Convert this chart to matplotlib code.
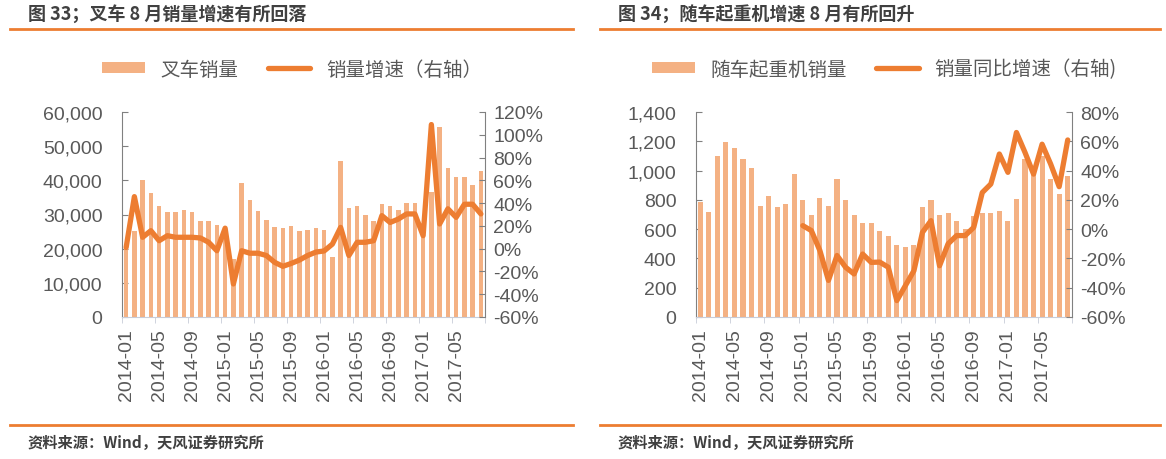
import numpy as np
import pandas as pd
import matplotlib
matplotlib.use("Agg")
import matplotlib.pyplot as plt
from matplotlib.ticker import FuncFormatter, MultipleLocator, FixedLocator

plt.rcParams['font.family'] = ['Liberation Sans', 'Noto Sans CJK SC', 'DejaVu Sans']
plt.rcParams['axes.unicode_minus'] = False

# 月份 2014-01 ~ 2017-08
months = [p.strftime('%Y-%m') for p in pd.period_range('2014-01', '2017-08', freq='M')]

# 图33 叉车
forklift_sales = [20400, 25300, 40000, 36200, 32600, 30800, 30800, 31300, 30800, 28200, 28200, 26900,
                  24000, 17000, 39100, 34300, 31100, 28500, 26400, 26000, 26700, 25100,
                  25500, 26000, 25500, 17700, 45800, 31800, 32600, 30000, 28200, 33100, 32600, 31300,
                  33400, 33400, 27000, 36500, 55500, 43500, 40900, 40900, 38700, 42600]
forklift_growth = [1, 45.7, 10, 15.8, 7, 11.4, 10, 10, 10, 9.4, 5.6, -1.8,
                   18, -31, -1.8, -4, -4, -6, -12, -15.5, -13, -10,
                   -6, -3, -2, 4, 18.7, -6, 5.6, 5.6, 7, 29, 23, 26,
                   30.5, 30.5, 11.4, 109, 21.7, 35, 27.5, 39, 39, 30.5]

# 图34 随车起重机
crane_sales = [788, 719, 1097, 1197, 1152, 1079, 1015, 760, 824, 749, 772, 977,
               799, 699, 810, 760, 945, 801, 699, 640, 640, 585,
               555, 492, 480, 492, 749, 799, 697, 708, 658, 600, 690, 708,
               708, 726, 658, 808, 1079, 988, 1102, 942, 840, 965]
crane_growth = [np.nan] * 12 + [2.4, -1, -14.7, -35, -18, -26, -30.6, -17, -22.7, -22.5,
                                -26, -48.8, -38.6, -28.4, -2.2, 5.8, -25, -10, -4.4, -4.4, 1.2,
                                25, 30.8, 51.3, 38.8, 66, 52.4, 37.6, 58, 44.5, 29, 60.9]

bar_color = '#F4B183'
line_color = '#ED7D31'
text_gray = '#595959'
W, H = 1166, 460

fig = plt.figure(figsize=(W / 100, H / 100), dpi=100)


def fx(px):
    return px / W


def fy(py):
    return 1 - py / H


def draw_panel(rect, sales, growth, ymax, ystep, pmin, pmax, pstep, bar_w):
    ax = fig.add_axes(rect)
    x = np.arange(len(months))
    b = ax.bar(x, sales, width=bar_w, color=bar_color, zorder=2)
    ax.set_xlim(-0.5, len(months) - 0.5)
    ax.set_ylim(0, ymax)
    ax.yaxis.set_major_locator(MultipleLocator(ystep))
    ax.yaxis.set_major_formatter(FuncFormatter(lambda v, p: f'{int(v):,}'))
    ax.tick_params(axis='y', direction='in', length=4, color='#808080',
                   labelsize=14, labelcolor=text_gray, pad=14)
    ax.xaxis.set_major_locator(FixedLocator(x[::4]))
    ax.set_xticklabels(months[::4], rotation=90)
    ax.xaxis.set_minor_locator(FixedLocator(np.arange(-0.5, len(months), 4)))
    ax.tick_params(axis='x', which='major', length=0, labelsize=14, labelcolor=text_gray, pad=8)
    ax.tick_params(axis='x', which='minor', length=4, color='#C8CCD8')
    ax.spines['top'].set_visible(False)
    ax.spines['right'].set_visible(False)
    ax.spines['left'].set_color('#808080')
    ax.spines['bottom'].set_color('#C8CCD8')

    ax2 = ax.twinx()
    l, = ax2.plot(x, growth, color=line_color, lw=3.8, solid_joinstyle='round',
                  solid_capstyle='round', zorder=3)
    ax2.set_ylim(pmin, pmax)
    ax2.yaxis.set_major_locator(MultipleLocator(pstep))
    ax2.yaxis.set_major_formatter(FuncFormatter(lambda v, p: f'{int(round(v))}%'))
    ax2.tick_params(axis='y', direction='in', length=4, color='#808080',
                    labelsize=14, labelcolor=text_gray, pad=6)
    for s in ['top', 'left', 'bottom']:
        ax2.spines[s].set_visible(False)
    ax2.spines['right'].set_color('#808080')
    return ax, b, l


# 左图
axL, bL, lL = draw_panel([fx(122), fy(318), fx(485 - 122), (318 - 113) / H],
                         forklift_sales, forklift_growth, 60000, 10000, -60, 120, 20, 0.55)
fig.legend([bL, lL], ['叉车销量', '销量增速（右轴）'], loc='center', ncol=2,
           bbox_to_anchor=(fx(292), fy(70)), frameon=False,
           labelcolor=text_gray, handlelength=2.2, handleheight=0.5, columnspacing=1.5,
           prop={'family': ['Noto Sans CJK SC'], 'size': 14})

# 右图
axR, bR, lR = draw_panel([fx(696), fy(318), fx(1072 - 696), (318 - 113) / H],
                         crane_sales, crane_growth, 1400, 200, -60, 80, 20, 0.6)
fig.legend([bR, lR], ['随车起重机销量', '销量同比增速（右轴)'], loc='center', ncol=2,
           bbox_to_anchor=(fx(884), fy(70)), frameon=False,
           labelcolor=text_gray, handlelength=2.2, handleheight=0.5, columnspacing=1.5,
           prop={'family': ['Noto Sans CJK SC'], 'size': 14})

# 标题、分隔线、来源
for x0, x1, title in [(10, 573, '图 33；叉车 8 月销量增速有所回落'),
                      (600, 1160, '图 34；随车起重机增速 8 月有所回升')]:
    fig.text(fx(x0 + 18), fy(14), title, fontsize=13, fontweight='bold', color='#404040',
             va='center', ha='left', family=['Noto Sans CJK SC'])
    fig.add_artist(plt.Line2D([fx(x0), fx(x1)], [fy(30), fy(30)], color=line_color, lw=2))
    fig.add_artist(plt.Line2D([fx(x0), fx(x1)], [fy(426), fy(426)], color=line_color, lw=2))
    fig.text(fx(x0 + 18), fy(443), '资料来源：Wind，天风证券研究所', fontsize=11,
             fontweight='bold', color='#404040', va='center', ha='left',
             family=['Noto Sans CJK SC'])

fig.savefig('out.png', dpi=100)
